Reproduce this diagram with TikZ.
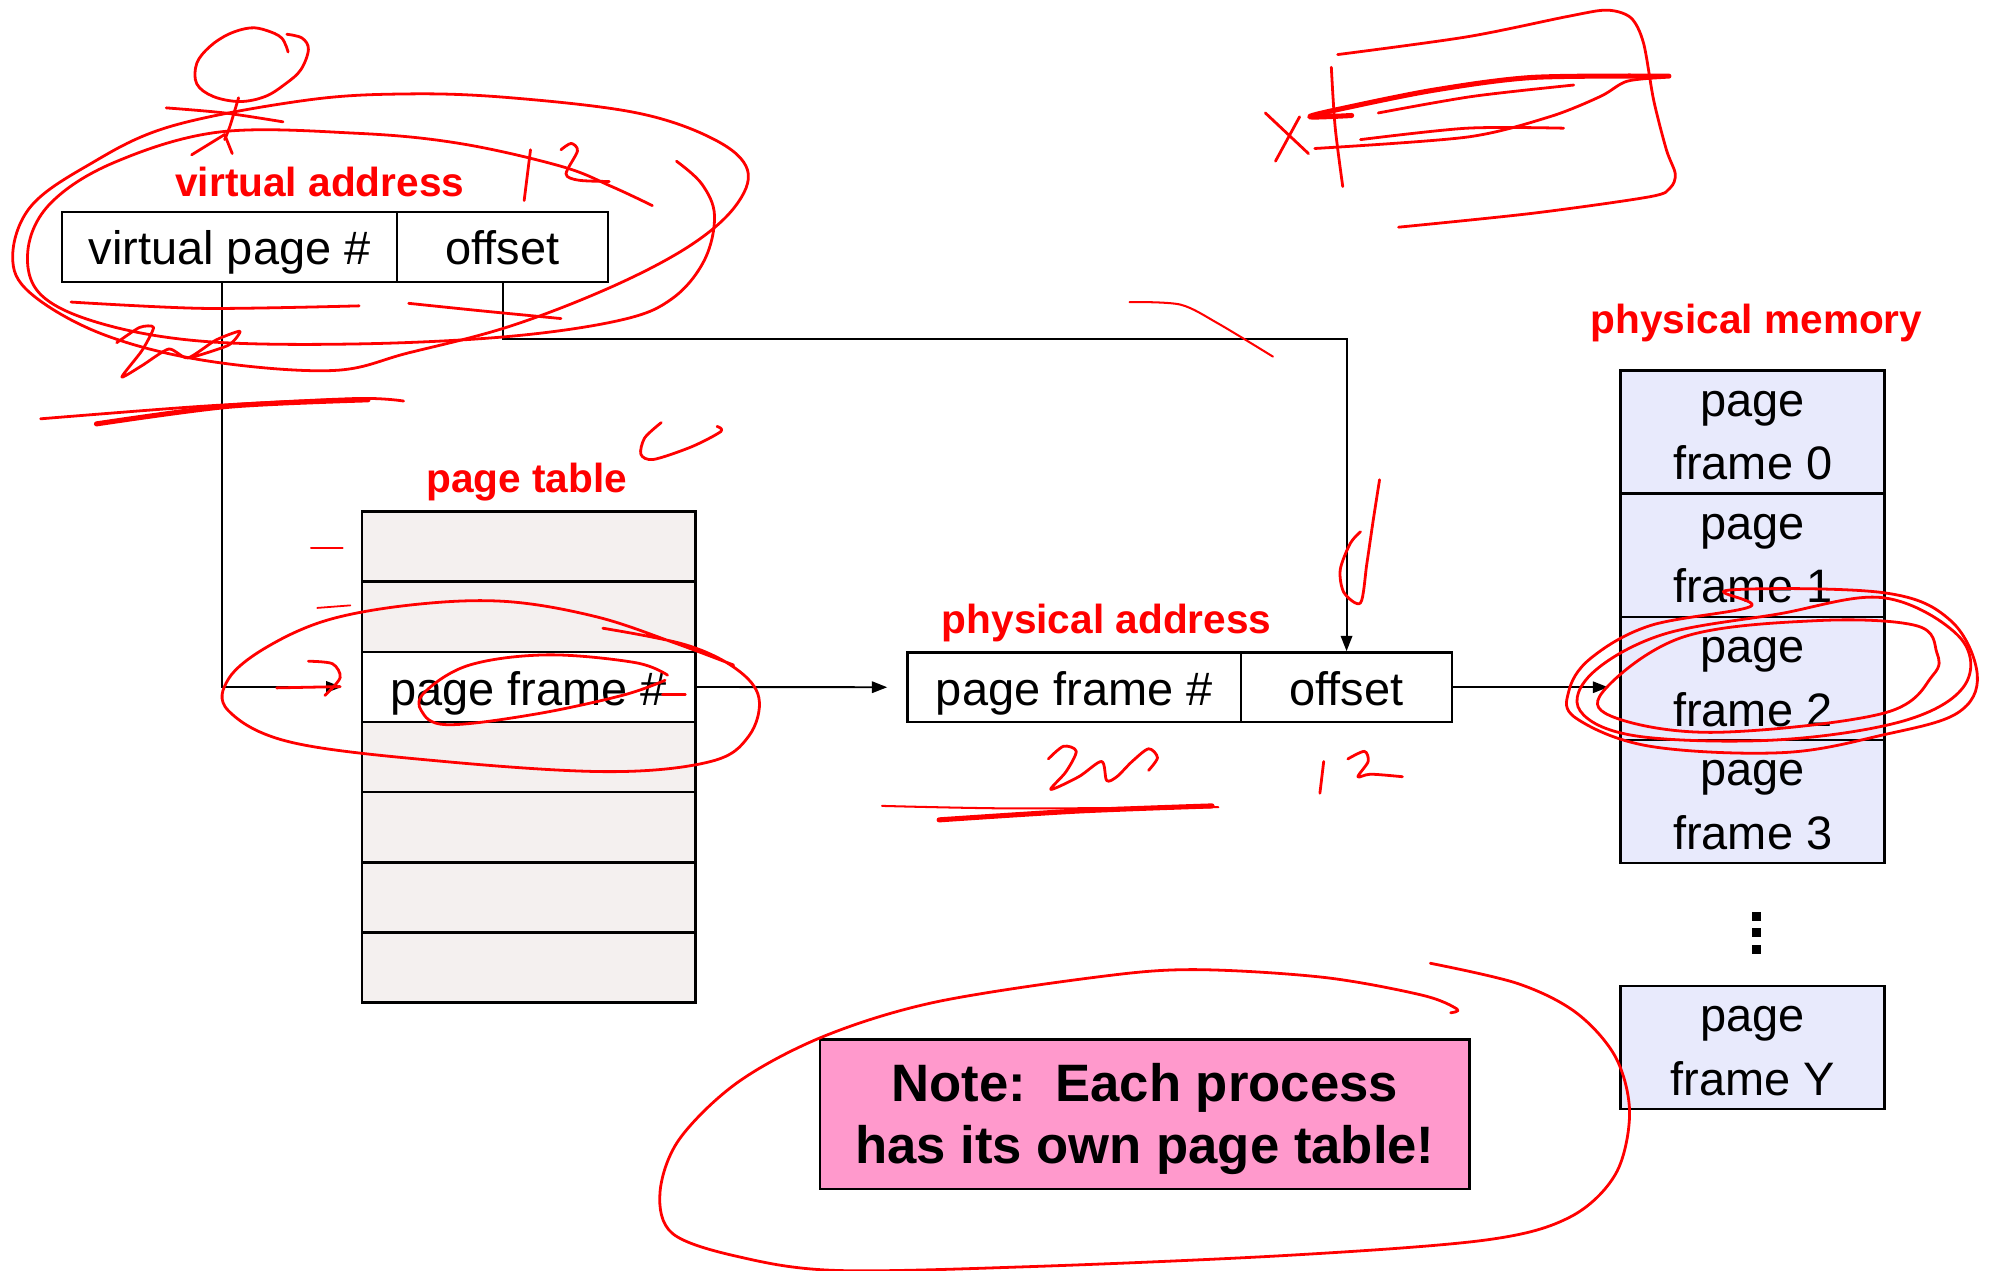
\documentclass[tikz,border=0pt]{standalone}
\usepackage{fontspec}
\setmainfont{Liberation Sans}
\usetikzlibrary{arrows.meta}
\definecolor{ptfill}{HTML}{F4F0EF}
\definecolor{pmfill}{HTML}{E8EAFC}
\definecolor{notefill}{HTML}{FF99CC}
\definecolor{ink}{HTML}{FF0000}
\newcommand\txtfont{\fontsize{37}{48}\selectfont}
\newcommand\lblfont{\fontsize{32}{38}\selectfont\bfseries}
\newcommand\notefont{\fontsize{41.5}{48.6}\selectfont\bfseries}
\newcommand\pmtext[1]{\rule{0pt}{25.6pt}page\\[2pt]frame #1}
\begin{document}
\begin{tikzpicture}[x=1pt,y=-1pt,
  cell/.style={draw, line width=1.9pt, inner sep=0pt, font=\txtfont, text height=30pt, text depth=1.5pt},
  ptrow/.style={cell, fill=ptfill, minimum width=263pt, minimum height=55.3pt},
  pmrow/.style={draw, line width=1.9pt, inner sep=0pt, font=\txtfont, fill=pmfill, minimum width=208pt, minimum height=97pt, align=center},
  lbl/.style={font=\lblfont, text=ink, inner sep=0pt},
  conn/.style={line width=1.5pt, -{Triangle[length=12pt,width=9pt]}},
  hand/.style={draw=ink, line width=2.2pt, line cap=round, line join=round},
  thickhand/.style={hand, line width=4pt}]
\useasboundingbox (0,0) rectangle (1568,1001);
\fill[white] (0,0) rectangle (1568,1001);

% virtual address
\node[lbl] (valbl) at (252,143) {virtual address};
\node[cell, minimum width=264pt, minimum height=55pt] (va1) at (181,194.5) {virtual page \#};
\node[cell, minimum width=166pt, minimum height=55pt] (va2) at (396,194.5) {offset};

% page table
\node[lbl] (ptlbl) at (415,379.5) {page table};
\node[ptrow] (pt1) at (416.5,430.6) {};
\node[ptrow] (pt2) at (416.5,485.9) {};
\node[ptrow, fill=white] (pt3) at (416.5,541.3) {page frame \#};
\node[ptrow] (pt4) at (416.5,596.5) {};
\node[ptrow] (pt5) at (416.5,651.8) {};
\node[ptrow] (pt6) at (416.5,707.1) {};
\node[ptrow] (pt7) at (416.5,762.4) {};

% physical address
\node[lbl] (palbl) at (872,490.5) {physical address};
\node[cell, minimum width=263pt, minimum height=55pt] (pa1) at (846.5,541.5) {page frame \#};
\node[cell, minimum width=166pt, minimum height=55pt] (pa2) at (1061,541.5) {offset};

% physical memory
\node[lbl] (pmlbl) at (1384,254.5) {physical memory};
\node[pmrow] (pm0) at (1381,340.5) {\pmtext{0}};
\node[pmrow] (pm1) at (1381,437.5) {\pmtext{1}};
\node[pmrow] (pm2) at (1381,534.5) {\pmtext{2}};
\node[pmrow] (pm3) at (1381,631.5) {\pmtext{3}};
\node[pmrow] (pmY) at (1381,825.5) {\pmtext{Y}};
\fill (1380.5,718.5) rectangle (1387.5,725.5);
\fill (1380.5,731.5) rectangle (1387.5,738.5);
\fill (1380.5,744.5) rectangle (1387.5,751.5);

% note
\node[draw, line width=1.9pt, fill=notefill, minimum width=512pt, minimum height=118pt, inner sep=0pt, align=center, font=\notefont] (note) at (902,878) {\rule{0pt}{37.4pt}Note:\ \ Each process\\has its own page table!};

% connectors
\draw[conn] ([xshift=-6pt]va1.south) |- ([xshift=-15pt]pt3.west);
\draw[conn] (va2.south) -- ([yshift=-44pt]va2.south) -| (pa2.north);
\draw[conn] (pt3.east) -- ([xshift=-15pt]pa1.west);
\coordinate (pmin) at (pa2.east -| pm2.west);
\draw[conn] (pa2.east) -- ([xshift=-9pt]pmin);

% ---- handwritten annotations ----
% stick figure
\draw[hand] plot[smooth, tension=0.6] coordinates {(227,41)(222,30)(210,24)(197,22)(180,27)(165,37)(155,50)(155,66)(168,76)(189,80)(209,76)(225,66)(237,55)(243,39)(238,30)(226,27)};
\draw[hand] plot[smooth] coordinates {(131,85)(177,89)(223,96)};
\draw[hand] plot[smooth] coordinates {(188,77)(181,100)(177,110)};
\draw[hand] (177,106) -- (151,122);
\draw[hand] (177,106) -- (183,121);
% loops around virtual address
\draw[hand] plot[smooth cycle, tension=0.6] coordinates {(241,79)(322,74)(402,77)(502,89)(563,110)(589,134)(579,163)(543,194)(482,226)(402,257)(322,278)(261,292)(161,284)(80,263)(24,231)(10,202)(24,163)(68,131)(133,100)};
\draw[hand] plot[smooth, tension=0.6] coordinates {(533,127)(553,145)(563,170)(555,205)(530,235)(490,252)(402,265)(281,271)(161,269)(80,255)(32,232)(22,197)(40,160)(90,128)(173,104)(281,105)(362,113)(442,131)(482,147)(514,162)};
% "12"
\draw[hand] (418,118) -- (413,158);
\draw[hand] plot[smooth, tension=0.5] coordinates {(442,118)(450,113)(455,119)(446,137)(456,142)(480,143)};
% underlines
\draw[hand] plot[smooth] coordinates {(56,238)(161,243)(283,241)};
\draw[hand] plot[smooth] coordinates {(322,239)(380,245)(442,251)};
% "20"
\draw[hand] plot[smooth, tension=0.4] coordinates {(92,270)(110,258)(121,258)(112,276)(96,297)(112,288)(133,275)(148,282)(170,268)(189,261)(180,272)(150,282)};
% thick underline
\draw[hand] plot[smooth] coordinates {(32,330)(161,320)(281,314)(318,316)};
\draw[thickhand] plot[smooth] coordinates {(76,334)(181,320)(290,315)};
% near page table label
\draw[hand] plot[smooth, tension=0.5] coordinates {(521,333)(508,345)(505,358)(515,362)(545,352)(568,340)(565,336)};
% dashes left of table
\draw[hand, line width=1.4pt] (245,432) -- (270,432);
\draw[hand, line width=1.4pt] (250,479) -- (276,477);
% red arrow mark
\draw[hand] (218,542) -- (268,541);
\draw[hand] plot[smooth, tension=0.5] coordinates {(243,521)(262,523)(268,534)(256,548)};
% loops around page frame #
\draw[hand] plot[smooth, tension=0.6] coordinates {(475,495)(540,508)(580,527)(598,550)(590,580)(560,600)(480,608)(350,600)(230,585)(180,560)(180,535)(210,510)(260,488)(330,476)(400,474)(470,486)(530,506)(578,524)};
\draw[hand] plot[smooth, tension=0.6] coordinates {(526,532)(500,522)(431,516)(370,524)(335,545)(332,560)(352,571)(420,563)(490,548)(524,536)};
\draw[hand] (522,547) -- (540,547);
% stroke near top middle
\draw[hand, line width=1.6pt] plot[smooth] coordinates {(890,238)(930,240)(960,255)(1003,281)};
% top right scribbles
\draw[hand] (997,89) -- (1031,121);
\draw[hand] (1024,92) -- (1005,127);
\draw[hand] plot[smooth] coordinates {(1049,53)(1052,100)(1058,147)};
\draw[thickhand] plot[smooth, tension=0.5] coordinates {(1065,91)(1032,92)(1060,85)(1130,71)(1208,61)(1315,60)};
\draw[hand] plot[smooth] coordinates {(1086,89)(1160,76)(1240,67)};
\draw[hand] plot[smooth] coordinates {(1072,110)(1156,101)(1232,101)};
\draw[hand] plot[smooth, tension=0.5] coordinates {(1036,117)(1156,108)(1221,92)(1261,76)(1282,64)(1312,61)};
\draw[hand] plot[smooth, tension=0.5] coordinates {(1054,43)(1156,29)(1235,13)(1266,8)(1285,14)(1295,34)(1303,79)(1313,118)(1320,137)(1316,148)(1300,155)(1208,168)(1102,179)};
% "(1" near offset arrow
\draw[hand] plot[smooth, tension=0.5] coordinates {(1087,378)(1082,410)(1077,444)(1072,475)(1059,467)(1056,449)(1064,428)(1072,419)};
% under physical address
\draw[hand] plot[smooth, tension=0.5] coordinates {(826,598)(838,588)(848,592)(840,608)(828,622)(850,612)(868,600)(872,615)(880,612)(892,600)(905,590)(912,597)(905,607)};
\draw[hand] (1043,600) -- (1040,625);
\draw[hand] plot[smooth, tension=0.5] coordinates {(1062,598)(1075,592)(1078,600)(1070,612)(1080,610)(1105,612)};
\draw[hand, line width=1.6pt] plot[smooth] coordinates {(695,635)(800,637)(960,636)};
\draw[thickhand] plot[smooth] coordinates {(740,646)(850,639)(955,635)};
% loops around page frame 2
\draw[hand] plot[smooth cycle, tension=0.6] coordinates {(1362,465)(1484,467)(1537,489)(1558,532)(1542,562)(1484,579)(1405,593)(1300,588)(1242,566)(1236,545)(1253,519)(1300,493)(1379,478)};
\draw[hand] plot[smooth cycle, tension=0.6] coordinates {(1484,471)(1544,502)(1548,540)(1500,568)(1400,583)(1290,580)(1245,560)(1255,530)(1310,500)(1400,484)};
\draw[hand] plot[smooth cycle, tension=0.6] coordinates {(1526,514)(1510,493)(1432,489)(1326,502)(1263,545)(1274,566)(1353,577)(1484,562)(1523,532)};
% loop around note
\draw[hand] plot[smooth, tension=0.55] coordinates {(1127,759)(1196,775)(1242,798)(1273,833)(1284,877)(1273,925)(1237,959)(1171,977)(1017,989)(812,998)(658,1001)(581,990)(530,972)(520,940)(535,898)(581,853)(648,817)(735,790)(863,770)(940,764)(1042,770)(1120,784)(1148,795)(1143,798)};
\end{tikzpicture}
\end{document}
